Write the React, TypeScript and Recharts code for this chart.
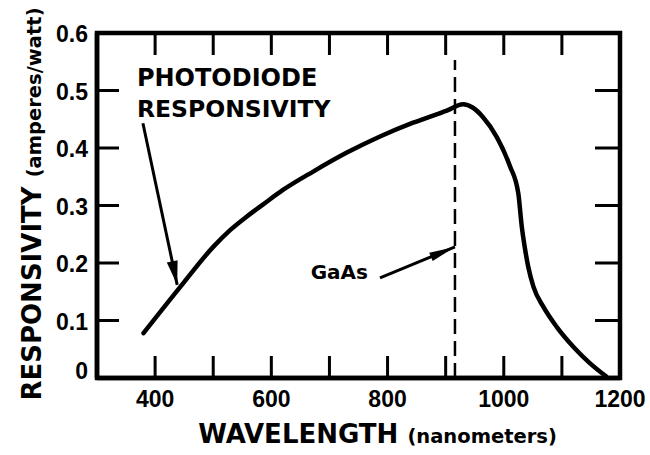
import React, { useEffect, useState } from 'react';
import { LineChart, Line, XAxis, YAxis, ReferenceLine, Label } from 'recharts';

// wavelength (nm)
const wavelengths = [380, 443, 500, 530, 558, 586, 620, 672, 730, 787, 844, 902, 930, 947, 964, 988, 1010, 1025, 1031, 1036, 1042, 1051, 1068, 1091, 1120, 1148, 1176];
// responsivity (amperes/watt)
const responsivity = [0.078, 0.158, 0.228, 0.258, 0.281, 0.302, 0.327, 0.359, 0.392, 0.42, 0.444, 0.465, 0.476, 0.47, 0.454, 0.419, 0.37, 0.321, 0.263, 0.228, 0.194, 0.159, 0.124, 0.089, 0.054, 0.026, 0.003];

const xDomain = [300, 1200];
const yDomain = [0, 0.6];
const xTicks = [400, 500, 600, 700, 800, 900, 1000, 1100, 1200];
const xLabelTicks = [400, 600, 800, 1000, 1200];
const xInnerTicks = [400, 500, 600, 700, 800, 900, 1000, 1100];
const yTicks = [0, 0.1, 0.2, 0.3, 0.4, 0.5, 0.6];
const yInnerTicks = [0.1, 0.2, 0.3, 0.4, 0.5];

const gaasWavelength = 916;
const gaasLineTop = 0.553;

const photoArrow = [{ x: 379, y: 0.443 }, { x: 438, y: 0.162 }];
const gaasArrow = [{ x: 787, y: 0.174 }, { x: 916, y: 0.228 }];

const data = wavelengths.map((w, i) => ({ w, r: responsivity[i] }));

const INK = '#000';
const WORD_FONT = "'DejaVu Sans', sans-serif";
const NUM_FONT = "'Liberation Sans', Arial, sans-serif";
const TICK_LEN = 22;

const BottomTick = (props: any) => {
  const { x, y, payload } = props;
  const v = payload.value;
  if (!xLabelTicks.includes(v)) return <g />;
  return (
    <text x={x} y={y + 29} textAnchor="middle" fontFamily={NUM_FONT} fontWeight="bold" fontSize={23} fill="#000" stroke="none">
      {v}
    </text>
  );
};

const LeftTick = (props: any) => {
  const { x, y, payload } = props;
  const v = payload.value;
  const label = v === 0 ? '0' : v.toFixed(1);
  return (
    <text x={x - 9} y={y + (v === 0 ? -7 : 1)} textAnchor="end" dominantBaseline="central" fontFamily={NUM_FONT} fontWeight="bold" fontSize={23} fill="#000" stroke="none">
      {label}
    </text>
  );
};

const frameShape = (p: any) => {
  const { x1, y1, x2, y2 } = p;
  const l = Math.min(x1, x2);
  const r = Math.max(x1, x2);
  const t = Math.min(y1, y2);
  const b = Math.max(y1, y2);
  return <path d={`M${l},${t}L${r},${t}L${r},${b}L${l},${b}Z`} fill="none" stroke={INK} strokeWidth={4.5} />;
};

const vTickShape = (p: any) => {
  const { x1, y1, y2 } = p;
  const t = Math.min(y1, y2);
  const b = Math.max(y1, y2);
  return <path d={`M${x1},${b}L${x1},${b - TICK_LEN}M${x1},${t}L${x1},${t + TICK_LEN}`} fill="none" stroke={INK} strokeWidth={3} />;
};

const hTickShape = (p: any) => {
  const { x1, y1, x2 } = p;
  const l = Math.min(x1, x2);
  const r = Math.max(x1, x2);
  return <path d={`M${l},${y1}L${l + TICK_LEN},${y1}M${r},${y1}L${r - 25},${y1}`} fill="none" stroke={INK} strokeWidth={3} />;
};

const arrowHead = (x1: number, y1: number, x2: number, y2: number, len: number, w: number) => {
  const dx = x2 - x1;
  const dy = y2 - y1;
  const d = Math.sqrt(dx * dx + dy * dy) || 1;
  const ux = dx / d;
  const uy = dy / d;
  const bx = x2 - ux * len;
  const by = y2 - uy * len;
  const px = -uy * (w / 2);
  const py = ux * (w / 2);
  return `${x2},${y2} ${bx + px},${by + py} ${bx - px},${by - py}`;
};

const photoShape = (p: any) => {
  const { x1, y1, x2, y2 } = p;
  return (
    <g>
      <line x1={x1} y1={y1} x2={x2} y2={y2} stroke="#000" strokeWidth={3} />
      <polygon points={arrowHead(x1, y1, x2, y2, 24, 11)} fill="#000" />
      <text x={x1 - 6} y={y1 - 37} fontFamily={WORD_FONT} fontWeight="bold" fontSize={24} fill="#000">PHOTODIODE</text>
      <text x={x1 - 6} y={y1 - 6} fontFamily={WORD_FONT} fontWeight="bold" fontSize={23.5} fill="#000">RESPONSIVITY</text>
    </g>
  );
};

const gaasShape = (p: any) => {
  const { x1, y1, x2, y2 } = p;
  return (
    <g>
      <line x1={x1} y1={y1} x2={x2} y2={y2} stroke="#000" strokeWidth={3} />
      <polygon points={arrowHead(x1, y1, x2, y2, 26, 9)} fill="#000" />
      <text x={x1 - 12} y={y1 + 1} textAnchor="end" fontFamily={WORD_FONT} fontWeight="bold" fontSize={20} fill="#000">GaAs</text>
    </g>
  );
};

const XLabel = (props: any) => {
  const vb = props.viewBox;
  return (
    <text x={vb.x + vb.width / 2 + 19} y={vb.y + 65} textAnchor="middle" fontFamily={WORD_FONT} fontWeight="bold" fill="#000" stroke="none">
      <tspan fontSize={26}>WAVELENGTH </tspan>
      <tspan fontSize={19.5}>(nanometers)</tspan>
    </text>
  );
};

const YLabel = (props: any) => {
  const vb = props.viewBox;
  const cx = vb.x + 41;
  const cy = 204;
  return (
    <text x={cx} y={cy} transform={`rotate(-90, ${cx}, ${cy})`} textAnchor="middle" fontFamily={WORD_FONT} fontWeight="bold" fill="#000" stroke="none">
      <tspan fontSize={26}>RESPONSIVITY </tspan>
      <tspan fontSize={19.5}>(amperes/watt)</tspan>
    </text>
  );
};

export default function App() {
  // force a couple of re-renders after mount so every layer gets painted
  const [pass, setPass] = useState(0);
  useEffect(() => {
    const t1 = setTimeout(() => setPass(1), 30);
    const t2 = setTimeout(() => setPass(2), 120);
    return () => {
      clearTimeout(t1);
      clearTimeout(t2);
    };
  }, []);

  return (
    <div style={{ position: 'absolute', left: 0, top: 0, background: '#fff' }}>
      <LineChart className={`chart-pass-${pass}`} width={650} height={455} data={data} margin={{ top: 33, right: 30, bottom: 0, left: 0 }}>
        <XAxis
          xAxisId="bottom"
          dataKey="w"
          type="number"
          domain={xDomain}
          ticks={xTicks}
          interval={0}
          height={77}
          tickSize={0}
          tickMargin={0}
          tickLine={false}
          stroke={INK}
          strokeWidth={4.5}
          tick={<BottomTick />}
        >
          <Label content={<XLabel />} />
        </XAxis>
        <YAxis
          yAxisId="left"
          type="number"
          domain={yDomain}
          ticks={yTicks}
          interval={0}
          width={97}
          tickSize={0}
          tickMargin={0}
          tickLine={false}
          stroke={INK}
          strokeWidth={4.5}
          tick={<LeftTick />}
        >
          <Label content={<YLabel />} />
        </YAxis>

        <ReferenceLine
          xAxisId="bottom"
          yAxisId="left"
          ifOverflow="visible"
          segment={[{ x: xDomain[0], y: yDomain[0] }, { x: xDomain[1], y: yDomain[1] }]}
          shape={frameShape}
        />
        {xInnerTicks.map((v) => (
          <ReferenceLine
            key={`xt${v}`}
            xAxisId="bottom"
            yAxisId="left"
            ifOverflow="visible"
            segment={[{ x: v, y: yDomain[0] }, { x: v, y: yDomain[1] }]}
            shape={vTickShape}
          />
        ))}
        {yInnerTicks.map((v) => (
          <ReferenceLine
            key={`yt${v}`}
            xAxisId="bottom"
            yAxisId="left"
            ifOverflow="visible"
            segment={[{ x: xDomain[0], y: v }, { x: xDomain[1], y: v }]}
            shape={hTickShape}
          />
        ))}

        <ReferenceLine
          xAxisId="bottom"
          yAxisId="left"
          segment={[{ x: gaasWavelength, y: 0 }, { x: gaasWavelength, y: gaasLineTop }]}
          stroke="#000"
          strokeWidth={2.5}
          strokeDasharray="15 7"
        />
        <Line
          xAxisId="bottom"
          yAxisId="left"
          type="monotone"
          dataKey="r"
          stroke="#000"
          strokeWidth={4.5}
          strokeLinecap="round"
          strokeLinejoin="round"
          dot={false}
          activeDot={false}
          isAnimationActive={false}
        />
        <ReferenceLine xAxisId="bottom" yAxisId="left" segment={photoArrow} shape={photoShape} />
        <ReferenceLine xAxisId="bottom" yAxisId="left" segment={gaasArrow} shape={gaasShape} />
      </LineChart>
    </div>
  );
}
